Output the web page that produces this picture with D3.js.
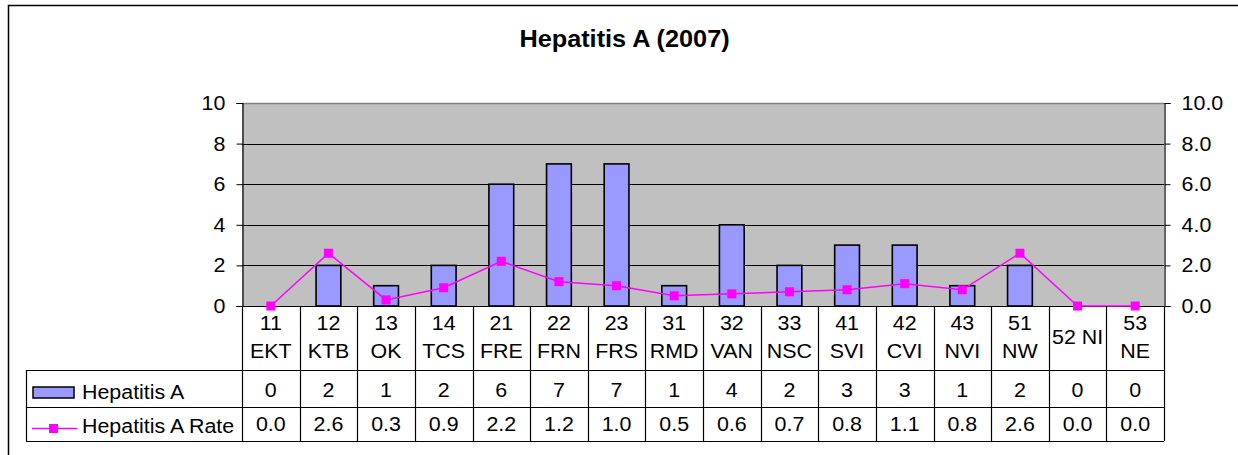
<!DOCTYPE html>
<html><head><meta charset="utf-8">
<script src="https://cdn.jsdelivr.net/npm/d3@7/dist/d3.min.js"></script>
<style>body{margin:0;background:#fff}svg{display:block;font-family:"Liberation Sans",Arial,sans-serif}</style>
</head><body><svg id="c" width="1238" height="455"></svg>
<script>
const codes = ["11","12","13","14","21","22","23","31","32","33","41","42","43","51","52","53"];
const names = ["EKT","KTB","OK","TCS","FRE","FRN","FRS","RMD","VAN","NSC","SVI","CVI","NVI","NW","NI","NE"];
const cases = [0,2,1,2,6,7,7,1,4,2,3,3,1,2,0,0];
const rates = [0.0,2.6,0.3,0.9,2.2,1.2,1.0,0.5,0.6,0.7,0.8,1.1,0.8,2.6,0.0,0.0];
const leftTicks = [0,2,4,6,8,10];
const rightTicks = [0,2,4,6,8,10];
const seriesNames = ["Hepatitis A","Hepatitis A Rate"];
const title = "Hepatitis A (2007)";

const svg = d3.select("#c");
const L = 242, R = 1164, T = 103, B = 306;
const fs = 20, SX = 1.07;
const cats = codes.map((c,i)=>c+" "+names[i]);
const x = d3.scaleBand().domain(cats).range([L,R]).padding(0);
const yL = d3.scaleLinear().domain([0,10]).range([B,T]);
const yR = d3.scaleLinear().domain([0,10]).range([B,T]);

function txt(g, px, py, s, anchor, size, sx, bold) {
  const t = g.append("text").attr("transform",`translate(${px},${py}) scale(${sx},1)`)
    .attr("text-anchor",anchor).attr("font-size",size).text(s);
  if (bold) t.attr("font-weight","bold");
  return t;
}

// outer border
svg.append("path").attr("d","M8.5,455V5.5H1238").attr("fill","none").attr("stroke","#000").attr("stroke-width",1.5);

// title
txt(svg, 624.5, 47, title, "middle", 23, 1.1, true);

// plot bg
svg.append("rect").attr("x",L).attr("y",T).attr("width",R-L).attr("height",B-T).attr("fill","#C0C0C0");
// gridlines
svg.append("g").selectAll("line").data(leftTicks.filter(d=>d>0&&d<10)).join("line")
  .attr("x1",L).attr("x2",R).attr("y1",d=>Math.round(yL(d))+0.5).attr("y2",d=>Math.round(yL(d))+0.5)
  .attr("stroke","#000").attr("stroke-width",1);
svg.append("line").attr("x1",L).attr("x2",R).attr("y1",T+0.5).attr("y2",T+0.5).attr("stroke","#808080").attr("stroke-width",1.5);

// axes
const axL = svg.append("g").attr("transform",`translate(${L+0.5},0)`)
  .call(d3.axisLeft(yL).tickValues(leftTicks).tickSize(6).tickPadding(10).tickFormat(d3.format("d")));
const axR = svg.append("g").attr("transform",`translate(${R+0.5},0)`)
  .call(d3.axisRight(yR).tickValues(rightTicks).tickSize(6).tickPadding(10).tickFormat(d3.format(".1f")));
[axL,axR].forEach(a=>{
  a.select(".domain").attr("stroke","#000").attr("stroke-width",1.2);
  a.selectAll(".tick line").attr("stroke","#000");
  a.selectAll(".tick text").attr("font-size",fs).attr("fill","#000")
    .attr("font-family","Liberation Sans, Arial, sans-serif").attr("transform",`scale(${SX},1)`);
});

// bars
const bw = x.bandwidth()*0.43;
svg.append("g").selectAll("rect").data(cases.map((v,i)=>({c:cats[i],v}))).join("rect")
  .filter(d=>d.v>0)
  .attr("x",d=>x(d.c)+x.bandwidth()/2-bw/2).attr("width",bw)
  .attr("y",d=>yL(d.v)).attr("height",d=>B-yL(d.v))
  .attr("fill","#9999FF").attr("stroke","#000").attr("stroke-width",1.6);

// zero line
svg.append("line").attr("x1",L).attr("x2",R).attr("y1",B+0.5).attr("y2",B+0.5).attr("stroke","#000").attr("stroke-width",1.2);

// rate line
const pts = rates.map((v,i)=>[x(cats[i])+x.bandwidth()/2, yR(v)]);
svg.append("path").attr("d",d3.line()(pts)).attr("fill","none").attr("stroke","#FF00FF").attr("stroke-width",1.5);
svg.append("g").selectAll("rect").data(pts).join("rect")
  .attr("x",d=>d[0]-4.5).attr("y",d=>d[1]-4.5).attr("width",9).attr("height",9).attr("fill","#FF00FF");

// data table
const rowTop = [306,370,407,441];
const TL = 26;
const tg = svg.append("g").attr("stroke","#000").attr("stroke-width",1.2);
tg.append("line").attr("x1",TL).attr("x2",R).attr("y1",rowTop[1]+0.5).attr("y2",rowTop[1]+0.5);
tg.append("line").attr("x1",TL).attr("x2",R).attr("y1",rowTop[2]+0.5).attr("y2",rowTop[2]+0.5);
tg.append("line").attr("x1",TL).attr("x2",R).attr("y1",rowTop[3]+0.5).attr("y2",rowTop[3]+0.5);
tg.append("line").attr("x1",TL+0.5).attr("x2",TL+0.5).attr("y1",rowTop[1]).attr("y2",rowTop[3]);
const bounds = cats.map(c=>x(c)).concat([R]);
tg.selectAll("line.v").data(bounds).join("line").attr("class","v")
  .attr("x1",d=>Math.round(d)+0.5).attr("x2",d=>Math.round(d)+0.5).attr("y1",rowTop[0]).attr("y2",rowTop[3]);

// category labels
const cl = svg.append("g");
cats.forEach((c,i)=>{
  const cx = x(c)+x.bandwidth()/2;
  if (names[i]==="NI") {
    txt(cl, cx, 344, c, "middle", fs, SX);
  } else {
    txt(cl, cx, 330, codes[i], "middle", fs, SX);
    txt(cl, cx, 358, names[i], "middle", fs, SX);
  }
});

// values
const vg = svg.append("g");
cases.forEach((v,i)=>txt(vg, x(cats[i])+x.bandwidth()/2, 397, d3.format("d")(v), "middle", fs, SX));
rates.forEach((v,i)=>txt(vg, x(cats[i])+x.bandwidth()/2, 431, d3.format(".1f")(v), "middle", fs, SX));

// legend keys
svg.append("rect").attr("x",33).attr("y",387).attr("width",41).attr("height",11)
  .attr("fill","#9999FF").attr("stroke","#000").attr("stroke-width",1.5);
svg.append("line").attr("x1",32).attr("x2",77).attr("y1",428.5).attr("y2",428.5).attr("stroke","#FF00FF").attr("stroke-width",1.5);
svg.append("rect").attr("x",49).attr("y",424).attr("width",9).attr("height",9).attr("fill","#FF00FF");
txt(svg, 82, 399, seriesNames[0], "start", fs, SX);
txt(svg, 82, 433, seriesNames[1], "start", fs, SX);
</script></body></html>
